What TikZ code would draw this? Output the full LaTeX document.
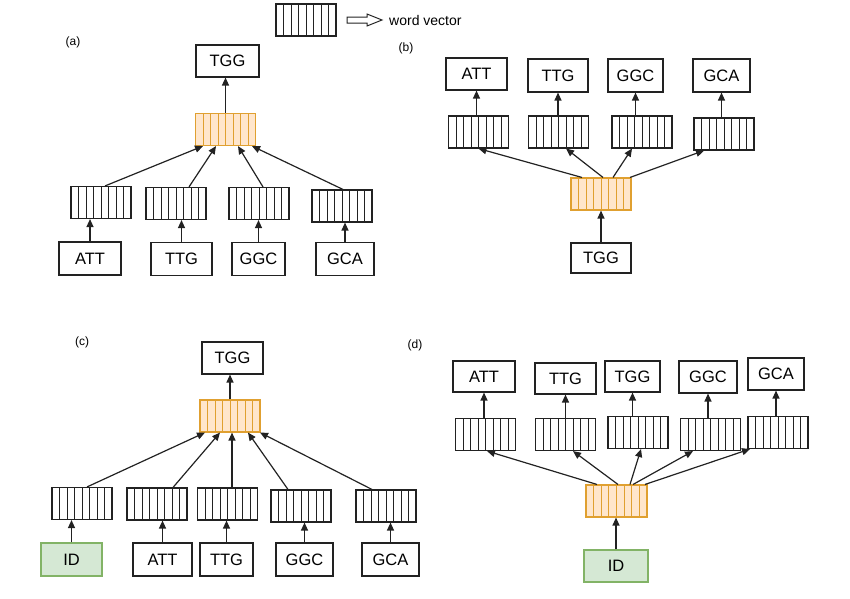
\documentclass[tikz,border=0pt]{standalone}
\usepackage{fontspec}
\setmainfont{Liberation Sans}
\usetikzlibrary{arrows.meta,calc}
\definecolor{orfill}{HTML}{FFE6CC}
\definecolor{ordraw}{HTML}{E0A030}
\definecolor{grfill}{HTML}{D5E8D4}
\definecolor{grdraw}{HTML}{82B366}
\definecolor{ink}{HTML}{222222}
\tikzset{
 cells/.style={path picture={\foreach \i in {1,...,7}{\draw[#1, line width=0.8pt] ($(path picture bounding box.south west)!\i/8!(path picture bounding box.south east)$) -- ($(path picture bounding box.north west)!\i/8!(path picture bounding box.north east)$);}}},
 wbox/.style={draw=ink, line width=1.1pt, fill=white, minimum height=32pt, inner sep=0pt, font=\fontsize{16.5}{16.5}\selectfont},
 vec/.style={draw=ink, line width=1.1pt, fill=white, minimum width=60pt, minimum height=32pt, inner sep=0pt, cells=ink},
 ovec/.style={draw=ordraw, line width=1.1pt, fill=orfill, minimum width=60pt, minimum height=32pt, inner sep=0pt, cells=ordraw},
 gbox/.style={wbox, draw=grdraw, fill=grfill},
 arr/.style={-{Triangle[length=8pt,width=7pt]}, line width=1.2pt, draw=ink},
 lab/.style={font=\fontsize{12}{12}\selectfont, inner sep=0pt},
}
\begin{document}
\begin{tikzpicture}[x=1pt,y=-1pt]
\useasboundingbox (0,0) rectangle (850,598);
% legend
\node[vec] (lv) at (306,20) {};
\draw[line width=1pt, draw=ink] (347,17) -- (367,17) -- (367,14) -- (382,20) -- (367,26) -- (367,23) -- (347,23) -- cycle;
\node[anchor=west, inner sep=0pt, font=\fontsize{14}{14}\selectfont] (lt) at (389,20) {word vector};

% ---------- (a)
\node[lab] (la) at (73,42) {(a)};
\node[wbox, minimum width=63pt] (ta) at (227.5,61) {TGG};
\node[ovec] (oa) at (225.5,129.5) {};
\node[vec] (va1) at (101,202.5) {};
\node[vec] (va2) at (176,203.5) {};
\node[vec] (va3) at (259,203.5) {};
\node[vec] (va4) at (342,206) {};
\node[wbox, minimum width=62pt, minimum height=33pt] (ba1) at (90,258.5) {ATT};
\node[wbox, minimum width=61pt, minimum height=33pt] (ba2) at (181.5,259) {TTG};
\node[wbox, minimum width=53pt, minimum height=33pt] (ba3) at (258.5,259) {GGC};
\node[wbox, minimum width=58pt, minimum height=33pt] (ba4) at (345,259) {GCA};
\foreach \k in {1,2,3,4}{\draw[arr] (ba\k.north) -- (ba\k.north |- va\k.south);}
\draw[arr] ([xshift=4pt]va1.north) -- ([xshift=-22.5pt]oa.south);
\draw[arr] ([xshift=13pt]va2.north) -- ([xshift=-9.5pt]oa.south);
\draw[arr] ([xshift=4pt]va3.north) -- ([xshift=12.5pt]oa.south);
\draw[arr] ([xshift=1pt]va4.north) -- ([xshift=26.5pt]oa.south);
\draw[arr] (oa.north) -- (oa.north |- ta.south);

% ---------- (b)
\node[lab] (lb) at (406,48) {(b)};
\node[wbox, minimum width=61pt] (tb1) at (476.5,74) {ATT};
\node[wbox, minimum width=60pt, minimum height=33pt] (tb2) at (558,75.5) {TTG};
\node[wbox, minimum width=55pt, minimum height=33pt] (tb3) at (635.5,75.5) {GGC};
\node[wbox, minimum width=57pt, minimum height=33pt] (tb4) at (721.5,75.5) {GCA};
\node[vec] (vb1) at (478.5,132) {};
\node[vec] (vb2) at (558.5,132) {};
\node[vec] (vb3) at (642,132) {};
\node[vec] (vb4) at (724,134) {};
\node[ovec] (ob) at (601,194) {};
\node[wbox, minimum width=60pt, minimum height=30pt] (bb) at (601,258) {TGG};
\foreach \k in {1,2,3,4}{\draw[arr] (tb\k.south |- vb\k.north) -- (tb\k.south);}
\draw[arr] ([xshift=-19pt]ob.north) -- (vb1.south);
\draw[arr] ([xshift=2pt]ob.north) -- ([xshift=7.5pt]vb2.south);
\draw[arr] ([xshift=12pt]ob.north) -- ([xshift=-10pt]vb3.south);
\draw[arr] ([xshift=29pt]ob.north) -- ([xshift=-20pt]vb4.south);
\draw[arr] (bb.north) -- (bb.north |- ob.south);

% ---------- (c)
\node[lab] (lc) at (82,342) {(c)};
\node[wbox, minimum width=61pt] (tc) at (232.5,358) {TGG};
\node[ovec] (oc) at (230,416) {};
\node[vec] (vc1) at (82,503.5) {};
\node[vec] (vc2) at (157,504) {};
\node[vec] (vc3) at (227.5,504) {};
\node[vec] (vc4) at (301,506) {};
\node[vec] (vc5) at (386,506) {};
\node[gbox, minimum width=61pt, minimum height=33pt] (bc1) at (71.5,559.5) {ID};
\node[wbox, minimum width=59pt, minimum height=33pt] (bc2) at (162.5,559.5) {ATT};
\node[wbox, minimum width=53pt, minimum height=33pt] (bc3) at (226.5,559.5) {TTG};
\node[wbox, minimum width=57pt, minimum height=33pt] (bc4) at (304.5,559.5) {GGC};
\node[wbox, minimum width=57pt, minimum height=33pt] (bc5) at (390.5,559.5) {GCA};
\foreach \k in {1,...,5}{\draw[arr] (bc\k.north) -- (bc\k.north |- vc\k.south);}
\draw[arr] ([xshift=5pt]vc1.north) -- ([xshift=-25pt]oc.south);
\draw[arr] ([xshift=16pt]vc2.north) -- ([xshift=-10pt]oc.south);
\draw[arr] ([xshift=4.5pt]vc3.north) -- ([xshift=2pt]oc.south);
\draw[arr] ([xshift=-13pt]vc4.north) -- ([xshift=18pt]oc.south);
\draw[arr] ([xshift=-14pt]vc5.north) -- ([xshift=30pt]oc.south);
\draw[arr] (oc.north) -- (oc.north |- tc.south);

% ---------- (d)
\node[lab] (ld) at (415,345) {(d)};
\node[wbox, minimum width=62pt, minimum height=31pt] (td1) at (484,376.5) {ATT};
\node[wbox, minimum width=61pt, minimum height=31pt] (td2) at (565.5,378.5) {TTG};
\node[wbox, minimum width=55pt, minimum height=31pt] (td3) at (632.5,376.5) {TGG};
\node[wbox, minimum width=58pt] (td4) at (708,377) {GGC};
\node[wbox, minimum width=56pt] (td5) at (776,374) {GCA};
\node[vec] (vd1) at (485.5,434.5) {};
\node[vec] (vd2) at (565.5,434.5) {};
\node[vec] (vd3) at (638,432.5) {};
\node[vec] (vd4) at (710.5,434.5) {};
\node[vec] (vd5) at (778,432.5) {};
\node[ovec, minimum width=61pt] (od) at (616.5,501) {};
\node[gbox, minimum width=64pt] (bd) at (616,566) {ID};
\foreach \k in {1,...,5}{\draw[arr] (td\k.south |- vd\k.north) -- (td\k.south);}
\draw[arr] ([xshift=-19.5pt]od.north) -- ([xshift=1.5pt]vd1.south);
\draw[arr] ([xshift=1.5pt]od.north) -- ([xshift=7.5pt]vd2.south);
\draw[arr] ([xshift=13.5pt]od.north) -- ([xshift=3pt]vd3.south);
\draw[arr] ([xshift=16.5pt]od.north) -- ([xshift=-17.5pt]vd4.south);
\draw[arr] ([xshift=28.5pt]od.north) -- ([xshift=-28pt]vd5.south);
\draw[arr] (bd.north) -- (bd.north |- od.south);
\end{tikzpicture}
\end{document}
